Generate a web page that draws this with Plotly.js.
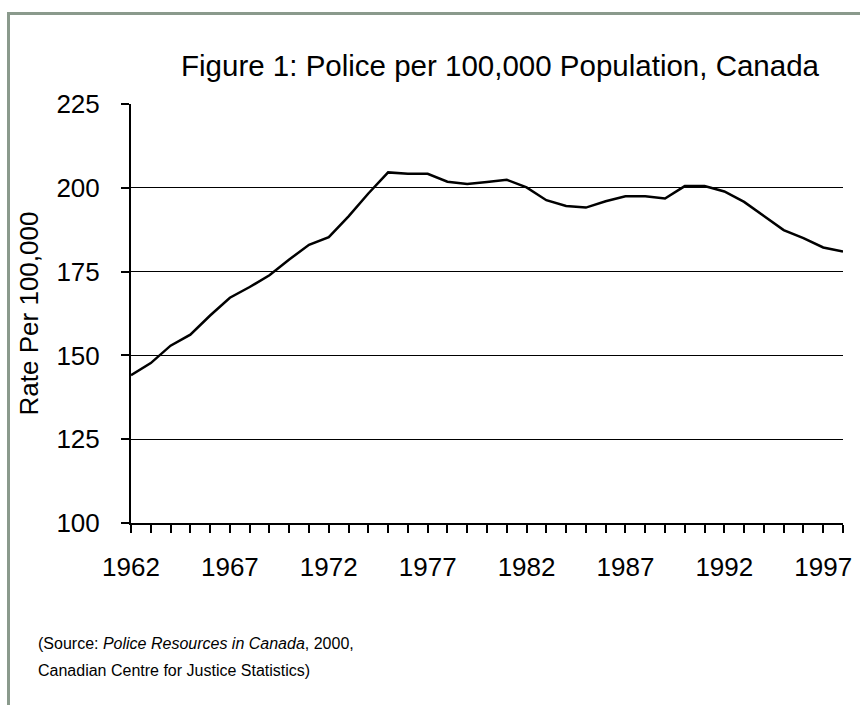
<!DOCTYPE html>
<html>
<head>
<meta charset="utf-8">
<script src="https://cdn.plot.ly/plotly-3.0.1.min.js"></script>
<style>
html,body{margin:0;padding:0;background:#fff;}
#chart{width:860px;height:705px;}
</style>
</head>
<body>
<div id="chart"></div>
<script>
const years = [1962,1963,1964,1965,1966,1967,1968,1969,1970,1971,1972,1973,1974,1975,1976,1977,1978,1979,1980,1981,1982,1983,1984,1985,1986,1987,1988,1989,1990,1991,1992,1993,1994,1995,1996,1997,1998];
const rate = [144.1,147.7,152.9,156.2,161.9,167.2,170.4,173.9,178.6,183.0,185.3,191.5,198.3,204.6,204.2,204.2,201.8,201.1,201.7,202.4,200.1,196.3,194.6,194.1,196.0,197.5,197.5,196.8,200.5,200.5,198.9,195.8,191.6,187.4,185.0,182.2,181.0];
const xTickText = ['1962','','','','','1967','','','','','1972','','','','','1977','','','','','1982','','','','','1987','','','','','1992','','','','','1997',''];
const yTickVals = [100,125,150,175,200,225];
const yGridVals = [125,150,175,200];

const FONT = 'Liberation Sans, Arial, sans-serif';
const NARROW = 'Liberation Sans Narrow, Arial Narrow, Liberation Sans, Arial, sans-serif';

const traces = [
  {x: years, y: rate, type: 'scatter', mode: 'lines', yaxis: 'y2',
   line: {color: 'rgba(0,0,0,0)', width: 0}, hoverinfo: 'skip', showlegend: false},
  {x: years, y: rate, type: 'scatter', mode: 'lines',
   line: {color: '#000000', width: 2.5}, showlegend: false}
];

const layout = {
  width: 860, height: 705,
  margin: {l: 131, r: 17, t: 104, b: 182},
  paper_bgcolor: '#ffffff', plot_bgcolor: 'rgba(0,0,0,0)',
  font: {family: FONT, color: '#000', size: 26},
  showlegend: false,
  title: {text: 'Figure 1: Police per 100,000 Population, Canada',
          font: {family: FONT, size: 29.5, color: '#000'},
          xref: 'container', yref: 'container', x: 0.5814, y: 0.907,
          xanchor: 'center', yanchor: 'middle'},
  xaxis: {range: [1962, 1998], tickvals: years, ticktext: xTickText,
          ticks: 'outside', ticklen: 8, tickwidth: 2, tickcolor: '#000',
          showline: true, linewidth: 2, linecolor: '#000',
          showgrid: false, zeroline: false, fixedrange: true,
          tickfont: {family: FONT, size: 26, color: '#000'}, tickangle: 0,
          ticklabelstandoff: 12},
  yaxis: {range: [100, 225], tickvals: yTickVals,
          ticks: 'outside', ticklen: 8, tickwidth: 2, tickcolor: '#000',
          showline: true, linewidth: 2, linecolor: '#000',
          showgrid: false, zeroline: false, fixedrange: true,
          tickfont: {family: FONT, size: 26, color: '#000'},
          ticklabelstandoff: 16,
          title: {text: 'Rate Per 100,000', font: {family: FONT, size: 26, color: '#000'}, standoff: 10},
          automargin: false},
  yaxis2: {range: [100, 225], overlaying: 'y', tickvals: yGridVals,
           showticklabels: false, ticks: '', showline: false,
           showgrid: true, gridcolor: '#000', gridwidth: 1.3, zeroline: false, fixedrange: true},
  shapes: [
    {type: 'rect', xref: 'paper', yref: 'paper', layer: 'above',
     x0: (8.5-131)/712, x1: 1.1, y0: -0.5, y1: (522.7-13.5)/418.7,
     line: {color: '#8a9a8c', width: 3}, fillcolor: 'rgba(0,0,0,0)'}
  ],
  annotations: [
    {xref: 'paper', yref: 'paper', x: (36-131)/712, y: (522.7-643)/418.7,
     xanchor: 'left', yanchor: 'middle', showarrow: false, align: 'left',
     text: '(Source: <i>Police Resources in Canada</i>, 2000,',
     font: {family: NARROW, size: 16, color: '#000'}},
    {xref: 'paper', yref: 'paper', x: (36-131)/712, y: (522.7-670)/418.7,
     xanchor: 'left', yanchor: 'middle', showarrow: false, align: 'left',
     text: 'Canadian Centre for Justice Statistics)',
     font: {family: NARROW, size: 16, color: '#000'}}
  ]
};

Plotly.newPlot('chart', traces, layout, {staticPlot: true, displayModeBar: false});
</script>
</body>
</html>
